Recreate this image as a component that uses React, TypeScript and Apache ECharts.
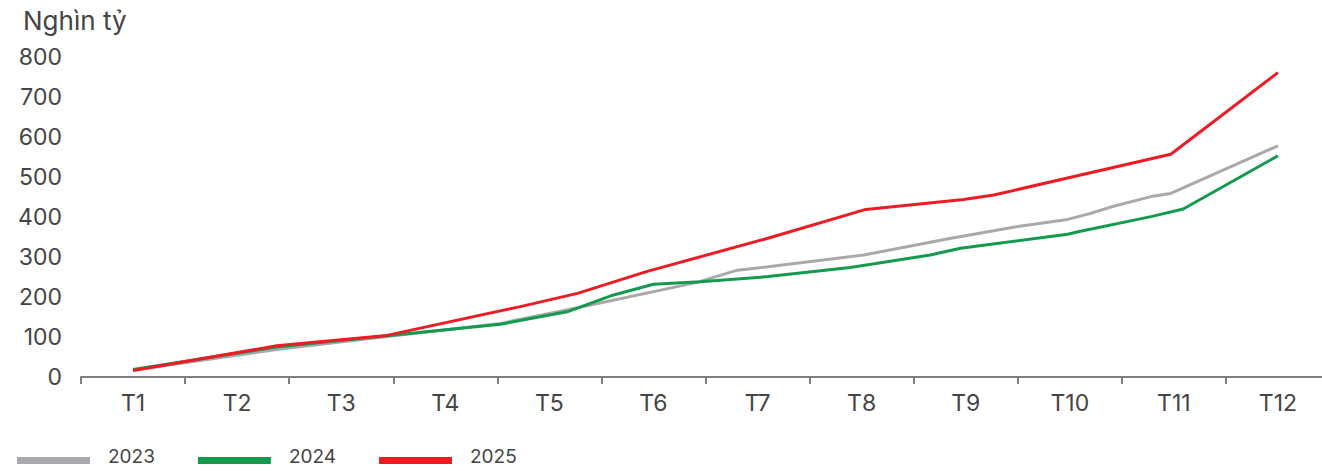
import React, { useEffect, useRef } from "react";
import * as echarts from "echarts";

// Category labels (months)
const months = ["T1", "T2", "T3", "T4", "T5", "T6", "T7", "T8", "T9", "T10", "T11", "T12"];
const yTicks = { min: 0, max: 800, interval: 100 };

// Cumulative values (Nghìn tỷ); positions are month indices (1 = T1 ... 12 = T12)
const pos2023 = [1.0, 2.38, 3.44, 4.53, 5.27, 6.41, 6.79, 8.02, 8.86, 9.5, 9.98, 10.2, 10.42, 10.78, 10.97, 12.0];
const val2023 = [17, 69, 101, 134, 173, 236, 266, 305, 347, 376, 394, 409, 427, 451, 459, 578];

const pos2024 = [1.0, 2.38, 3.44, 4.53, 5.17, 5.59, 6.0, 6.45, 7.1, 7.89, 8.66, 8.95, 9.98, 10.08, 10.78, 11.09, 12.0];
const val2024 = [19, 75, 103, 132, 163, 203, 232, 238, 251, 274, 305, 322, 357, 363, 401, 420, 553];

const pos2025 = [1.0, 2.38, 3.44, 4.72, 5.27, 5.94, 7.1, 8.04, 8.98, 9.27, 10.97, 12.0];
const val2025 = [16, 78, 104, 176, 209, 264, 347, 419, 444, 455, 557, 761];

const seriesNames = ["2023", "2024", "2025"];
const seriesColors = ["#a7a9ac", "#149a4f", "#ed1c24"];

const zip = (p: number[], v: number[]) => p.map((x, i) => [x, v[i]]);

// legend swatch: bar sitting in the lower part of the item box (tiny invisible anchor at top)
const legendIcon = "path://M0,0L0.05,0L0.05,0.05Z M0,9L73,9L73,16L0,16Z";

export default function App() {
  const ref = useRef<HTMLDivElement>(null);
  useEffect(() => {
    if (!ref.current) return;
    const chart = echarts.init(ref.current, undefined, { renderer: "svg" });
    const font = "Inter, 'Noto Sans', sans-serif";
    const textColor = "#444444";
    const data = [zip(pos2023, val2023), zip(pos2024, val2024), zip(pos2025, val2025)];
    chart.setOption({
      animation: false,
      textStyle: { fontFamily: font },
      title: {
        text: "Nghìn tỷ",
        left: 18,
        top: 2,
        textStyle: { fontFamily: font, fontSize: 26, fontWeight: "normal", color: textColor },
      },
      legend: {
        left: 17,
        top: 446,
        padding: 0,
        icon: legendIcon,
        itemWidth: 73,
        itemHeight: 16,
        itemGap: 43,
        data: seriesNames,
        textStyle: {
          fontFamily: font,
          fontSize: 19,
          lineHeight: 20,
          color: textColor,
          padding: [0, 0, 0, 13],
        },
      },
      grid: { left: 81, right: 10, top: 57, bottom: 94, containLabel: false },
      xAxis: [
        {
          type: "category",
          data: months,
          boundaryGap: true,
          axisLine: { lineStyle: { color: "#7f7f7f", width: 2 } },
          axisTick: { show: true, length: 7, lineStyle: { color: "#7f7f7f", width: 2 } },
          axisLabel: { fontFamily: font, fontSize: 23, color: textColor, margin: 14 },
          splitLine: { show: false },
        },
        { type: "value", min: 0.5, max: 12.5, show: false },
      ],
      yAxis: {
        type: "value",
        min: yTicks.min,
        max: yTicks.max,
        interval: yTicks.interval,
        axisLine: { show: false },
        axisTick: { show: false },
        splitLine: { show: false },
        axisLabel: { fontFamily: font, fontSize: 23, color: textColor, margin: 19 },
      },
      series: seriesNames.map((name, i) => ({
        name,
        type: "line",
        xAxisIndex: 1,
        data: data[i],
        showSymbol: false,
        symbol: "none",
        smooth: false,
        lineStyle: { color: seriesColors[i], width: 3 },
        itemStyle: { color: seriesColors[i] },
        z: 2 + i,
      })),
    });
    return () => chart.dispose();
  }, []);
  return (
    <div
      ref={ref}
      style={{ position: "absolute", left: 0, top: 0, width: 1340, height: 471 }}
    />
  );
}
